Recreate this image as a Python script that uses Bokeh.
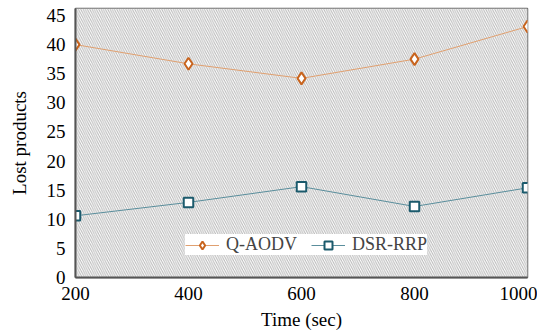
from bokeh.plotting import figure
from bokeh.models import BoxAnnotation, Range1d, FixedTicker, Legend, LegendItem
from bokeh.embed import file_html
from bokeh.resources import INLINE

time_sec = [200, 400, 600, 800, 1000]
q_aodv = [40.0, 36.7, 34.2, 37.5, 43.1]
dsr_rrp = [10.6, 12.9, 15.6, 12.2, 15.4]
x_ticks = [200, 400, 600, 800, 1000]
y_ticks = [0, 5, 10, 15, 20, 25, 30, 35, 40, 45]

FONT = "Liberation Serif"

p = figure(width=537, height=335, output_backend="svg", toolbar_location=None,
           x_range=Range1d(200, 1000), y_range=Range1d(0, 46.2),
           min_border_left=75, min_border_right=10, min_border_top=8, min_border_bottom=58)

p.background_fill_color = "white"
p.border_fill_color = "white"
p.outline_line_color = "#666666"
p.outline_line_width = 1.5
p.xgrid.grid_line_color = None
p.ygrid.grid_line_color = None

hatch = BoxAnnotation(fill_color="white", fill_alpha=1.0, line_color=None,
                      hatch_pattern="\\", hatch_scale=4.5, hatch_weight=1,
                      hatch_color="#b8b8b8", level="underlay")
p.add_layout(hatch)

r1 = p.line(time_sec, q_aodv, line_color="#E0A070", line_width=1)
m1 = p.scatter(time_sec, q_aodv, marker="diamond", size=12,
               fill_color="white", line_color="#C8641E", line_width=2)
r2 = p.line(time_sec, dsr_rrp, line_color="#5A8E9C", line_width=1)
m2 = p.scatter(time_sec, dsr_rrp, marker="square", size=9.5, fill_color="white",
               line_color="#1B5A6C", line_width=2)

for ax in (p.xaxis[0], p.yaxis[0]):
    ax.axis_line_color = "#555555"
    ax.axis_line_width = 2
    ax.major_tick_out = 0
    ax.major_tick_in = 0
    ax.minor_tick_out = 0
    ax.minor_tick_in = 0
    ax.major_tick_line_color = None
    ax.minor_tick_line_color = None
    ax.major_label_text_font = FONT
    ax.major_label_text_font_size = "19px"
    ax.major_label_text_color = "black"
    ax.axis_label_text_font = FONT
    ax.axis_label_text_font_size = "19px"
    ax.axis_label_text_font_style = "normal"
    ax.axis_label_text_color = "black"

p.xaxis.ticker = FixedTicker(ticks=x_ticks)
p.yaxis.ticker = FixedTicker(ticks=y_ticks)
p.xaxis.major_label_standoff = 9
p.yaxis.major_label_standoff = 10
p.xaxis.axis_label = "Time (sec)"
p.yaxis.axis_label = "Lost products"
p.xaxis.axis_label_standoff = 6
p.yaxis.axis_label_standoff = 14

legend = Legend(items=[LegendItem(label="Q-AODV", renderers=[r1, m1]),
                       LegendItem(label="DSR-RRP", renderers=[r2, m2])],
                orientation="horizontal", location=(110, 22),
                background_fill_color="white", background_fill_alpha=1.0,
                border_line_color=None, glyph_width=34, glyph_height=20,
                label_standoff=7, spacing=14, padding=3, margin=0,
                label_text_font=FONT, label_text_font_size="18px")
p.add_layout(legend)

open("out.html", "w").write(file_html(p, INLINE))
